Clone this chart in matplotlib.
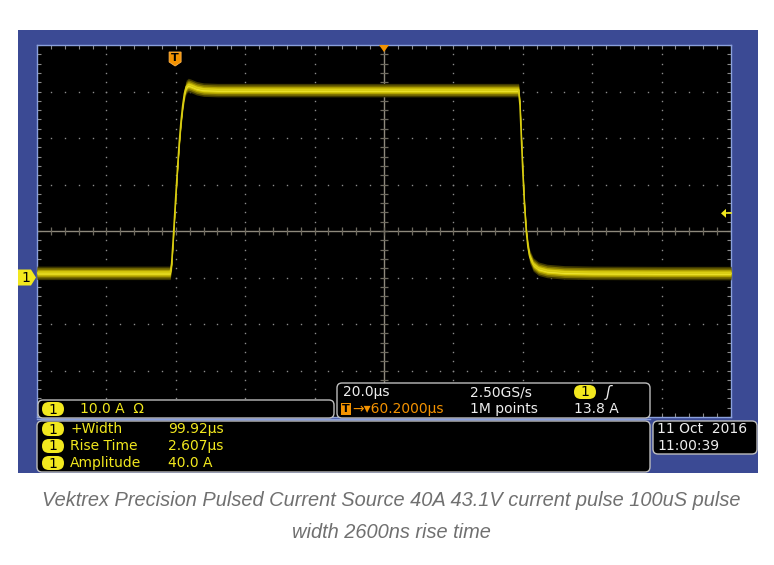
import numpy as np
import matplotlib
matplotlib.use("Agg")
import matplotlib.pyplot as plt
from matplotlib.patches import FancyBboxPatch, Rectangle, Polygon

# trace: time in us (0 = screen centre), current in A
time_us = [-100, -80, -65, -61.6, -61.2, -60.8, -60.4, -60.0, -59.5, -59.0,
           -58.5, -58.0, -57.5, -57.0, -56.4, -55.6, -54.0, -52.0, -48.0, 0.0,
           38.8, 39.2, 39.6, 40.0, 40.5, 41.0, 41.5, 42.0, 43.0, 44.5,
           47.0, 52.0, 60.0, 80.0, 100.0]
current_a = [1.0, 1.0, 1.0, 1.0, 3.0, 7.5, 12.5, 17.5, 23.5, 29.0,
             33.5, 37.0, 39.6, 41.0, 41.4, 41.2, 40.7, 40.4, 40.3, 40.3,
             40.3, 37.0, 30.0, 23.0, 15.5, 10.0, 6.5, 4.5, 2.8, 1.9,
             1.4, 1.1, 1.0, 0.95, 0.95]

volts_div = 10.0      # A/div
time_div = 20.0       # us/div
trigger_pos = -60.2   # us
trigger_level = 13.8  # A

meas_names = ["+Width", "Rise Time", "Amplitude"]
meas_values = ["99.92\u00b5s", "2.607\u00b5s", "40.0 A"]

caption = ["Vektrex Precision Pulsed Current Source 40A 43.1V current pulse 100uS pulse",
           "width 2600ns rise time"]

W, H = 774, 565
BLUE = "#3b4a94"
YEL = "#f2e81e"
ORG = "#f39200"
WHT = "#eeeeee"
GRAY = "#bdbdbd"
CROSS = "#8e897c"

fig = plt.figure(figsize=(W / 100, H / 100), dpi=100)

# background (pixel coordinates)
bg = fig.add_axes([0, 0, 1, 1], zorder=0)
bg.set_xlim(0, W)
bg.set_ylim(H, 0)
bg.axis("off")
bg.add_patch(Rectangle((18, 30), 740, 443, fc=BLUE, ec="none"))

# scope screen
x0, x1, y0, y1 = 37, 731, 45, 417
ax = fig.add_axes([x0 / W, 1 - y1 / H, (x1 - x0) / W, (y1 - y0) / H], zorder=1)
ax.set_facecolor("black")
ax.set_xlim(-5 * time_div, 5 * time_div)
ax.set_ylim(-3 * volts_div, 5 * volts_div)
for s in ax.spines.values():
    s.set_color("#8aa0dc")
    s.set_linewidth(1)
ax.set_xticks(np.arange(-100, 101, 4))
ax.set_yticks(np.arange(-30, 51, 2))
ax.tick_params(direction="in", length=3, color="#8a8a8a", width=0.8,
               top=True, right=True, labelbottom=False, labelleft=False)

# graticule dots
for xv in np.arange(-100, 101, 20):
    if xv in (-100, 0, 100):
        continue
    yy = np.arange(-30, 50.1, 2)
    ax.plot(np.full_like(yy, xv, dtype=float), yy, ls="none", marker="s",
            ms=1.0, color="#8c8c8c", mew=0)
for yv in np.arange(-30, 51, 10):
    if yv in (-30, 10, 50):
        continue
    xx = np.arange(-100, 100.1, 4)
    ax.plot(xx, np.full_like(xx, yv, dtype=float), ls="none", marker="s",
            ms=1.0, color="#8c8c8c", mew=0)

# centre crosshair with ticks
ax.axhline(10, color=CROSS, lw=1.0, zorder=2)
ax.axvline(0, color=CROSS, lw=1.0, zorder=2)
xt = np.arange(-100, 101, 4)
ax.plot(xt, np.full_like(xt, 10, dtype=float), ls="none", marker="|", ms=6,
        color="#6f6b60", mew=0.9, zorder=2)
yt = np.arange(-30, 51, 2)
ax.plot(np.zeros_like(yt, dtype=float), yt, ls="none", marker="_", ms=6,
        color="#6f6b60", mew=0.9, zorder=2)

# trace: noisy band drawn as vertical fills so the edges stay thin
t = np.array(time_us)
i = np.array(current_a)
for half, col in [(1.45, "#3e3800"), (1.1, "#7a6e00"), (0.75, "#b0a200"),
                  (0.45, "#dccf10"), (0.2, "#f7ee40")]:
    ax.fill_between(t, i - half, i + half, color=col, lw=0, zorder=3)
ax.plot(t, i, color="#d8cc10", lw=1.2, zorder=3)

# overlay (pixel coordinates) for markers and readouts
ov = fig.add_axes([0, 0, 1, 1], zorder=2)
ov.set_xlim(0, W)
ov.set_ylim(H, 0)
ov.axis("off")
ov.patch.set_alpha(0)

FS = 10
FAM = "DejaVu Sans"


def rbox(x, y, w, h, ec=GRAY):
    ov.add_patch(FancyBboxPatch((x, y), w, h, boxstyle="round,pad=0,rounding_size=5",
                                fc="black", ec=ec, lw=1.0))


def badge(cx, cy):
    ov.add_patch(FancyBboxPatch((cx - 11, cy - 7), 22, 14,
                                boxstyle="round,pad=0,rounding_size=7",
                                fc=YEL, ec="none"))
    ov.text(cx, cy + 0.5, "1", color="black", fontsize=10, ha="center", va="center",
            family=FAM)


def txt(x, y, s, c=WHT):
    ov.text(x, y, s, color=c, fontsize=FS, ha="left", va="center", family=FAM)


# pixel positions from data values
def px_x(tv):
    return x0 + (tv + 100) / 200 * (x1 - x0)


def px_y(av):
    return y1 - (av + 30) / 80 * (y1 - y0)


# channel ground marker
gy = px_y(0)
ov.add_patch(Polygon([(18, gy - 8), (31, gy - 8), (36, gy), (31, gy + 8), (18, gy + 8)],
                     closed=True, fc=YEL, ec="none"))
ov.text(25.5, gy + 0.5, "1", color="black", fontsize=10, ha="center", va="center",
        family=FAM)

# trigger position marker
tx = px_x(trigger_pos)
ov.add_patch(Polygon([(tx - 6, 52), (tx + 6, 52), (tx + 6, 62), (tx, 66), (tx - 6, 62)],
                     closed=True, fc=ORG, ec="#ffb24a", lw=0.6))
ov.text(tx, 58, "T", color="black", fontsize=8, ha="center", va="center",
        family=FAM, fontweight="bold")

# horizontal position marker
cx = px_x(0)
ov.add_patch(Polygon([(cx - 5, 45), (cx + 5, 45), (cx, 52)], closed=True, fc=ORG, ec="none"))

# trigger level marker
ty = px_y(trigger_level)
ov.add_patch(Polygon([(721, ty), (726, ty - 4.5), (726, ty + 4.5)], closed=True,
                     fc=YEL, ec="none"))
ov.plot([725, 731], [ty, ty], color=YEL, lw=1.2)

# channel scale box
rbox(38, 400, 296, 18)
badge(53, 409)
txt(80, 409, "10.0 A  \u03a9", YEL)

# timebase box
rbox(337, 383, 313, 35)
txt(343, 392, "20.0\u00b5s")
txt(470, 392, "2.50GS/s")
badge(585, 392)
ov.text(606, 392, "\u0283", color=WHT, fontsize=11, ha="left", va="center",
        family=FAM, fontstyle="italic")
ov.add_patch(Rectangle((341, 403), 10, 12, fc=ORG, ec="none"))
ov.text(346, 409.5, "T", color="black", fontsize=8, ha="center", va="center",
        family=FAM, fontweight="bold")
txt(352, 409, "\u2192\u25be60.2000\u00b5s", ORG)
txt(470, 409, "1M points")
txt(574, 409, "%.1f A" % trigger_level)

# bottom line of screen
ov.plot([37, 650], [419, 419], color="#8aa0dc", lw=1)

# measurement box
rbox(37, 421, 613, 51)
for k, (nm, vl) in enumerate(zip(meas_names, meas_values)):
    yy = 429 + 17 * k
    badge(53, yy)
    txt(70, yy, nm, YEL)
    txt(168, yy, vl, YEL)

# date box
rbox(653, 421, 104, 33)
txt(657, 429, "11 Oct  2016")
txt(657, 446, "11:00:39")

# caption
for k, line in enumerate(caption):
    ov.text(W / 2 + 4, 500 + 32 * k, line, color="#707070", fontsize=14.4,
            ha="center", va="center", family="Liberation Sans", fontstyle="italic")

fig.savefig("out.png", dpi=100, facecolor="white")
